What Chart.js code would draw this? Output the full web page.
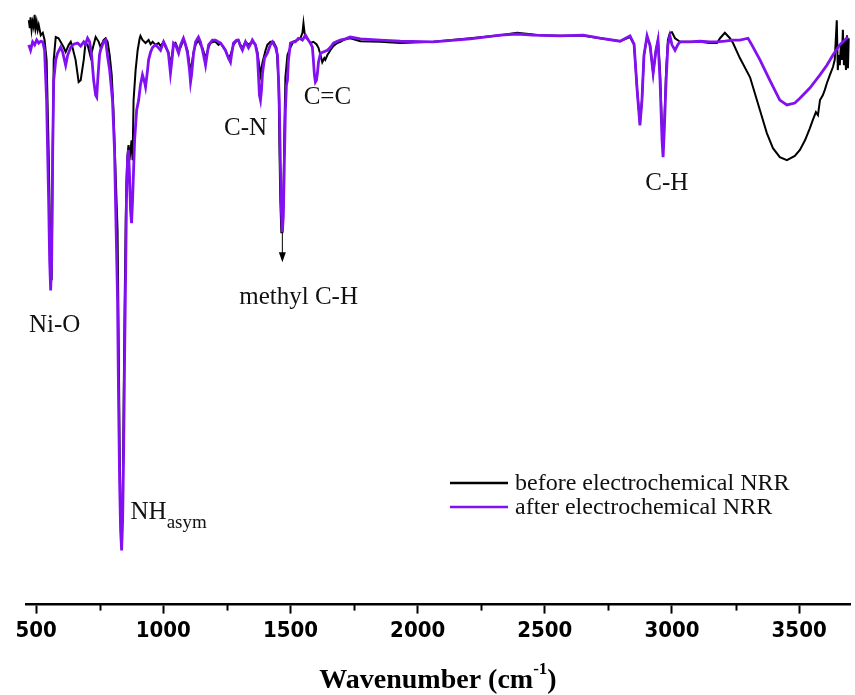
<!DOCTYPE html>
<html>
<head>
<meta charset="utf-8">
<script src="https://cdn.jsdelivr.net/npm/chart.js@4.4.1/dist/chart.umd.min.js"></script>
<style>
  html, body { margin: 0; padding: 0; background: #fff; }
  #wrap { width: 855px; height: 695px; }
</style>
</head>
<body>
<div id="wrap"><canvas id="ftirChart" width="855" height="695"></canvas></div>
<script>
/* ─────────────────────────────────────────────
   Data (wavenumber in cm-1, transmittance in a.u.)
───────────────────────────────────────────── */
const beforeWn = [471, 475, 478, 482, 486, 490, 494, 498, 502, 506, 510, 518, 526, 533, 541, 549, 557, 561, 565, 569,
  577, 588, 596, 608, 616, 628, 636, 643, 655, 667, 675, 687, 694, 702, 714, 726, 734, 746, 753, 765,
  773, 781, 789, 797, 804, 812, 820, 824, 828, 832, 836, 840, 844, 848, 852, 855, 859, 863, 867, 871,
  875, 879, 883, 891, 899, 907, 910, 918, 930, 942, 950, 958, 969, 981, 989, 1001, 1009, 1020, 1028, 1040,
  1048, 1060, 1068, 1079, 1087, 1095, 1107, 1119, 1127, 1138, 1146, 1154, 1166, 1178, 1185, 1197, 1205, 1217, 1225, 1237,
  1244, 1256, 1264, 1276, 1284, 1295, 1303, 1311, 1323, 1335, 1343, 1350, 1362, 1370, 1382, 1390, 1402, 1409, 1421, 1433,
  1445, 1453, 1456, 1460, 1464, 1468, 1472, 1476, 1480, 1488, 1500, 1511, 1527, 1539, 1547, 1551, 1555, 1559, 1570, 1578,
  1590, 1602, 1610, 1618, 1625, 1633, 1637, 1645, 1657, 1669, 1684, 1696, 1708, 1724, 1735, 1775, 1853, 1932, 2061, 2207,
  2325, 2391, 2482, 2560, 2651, 2717, 2796, 2835, 2851, 2863, 2874, 2882, 2890, 2902, 2914, 2926, 2937, 2945, 2953, 2961,
  2965, 2969, 2977, 2984, 2992, 3000, 3012, 3032, 3071, 3110, 3149, 3177, 3189, 3208, 3228, 3240, 3267, 3307, 3346, 3373,
  3397, 3424, 3452, 3483, 3503, 3523, 3542, 3554, 3566, 3574, 3582, 3593, 3601, 3609, 3621, 3633, 3640, 3644, 3648, 3652,
  3656, 3660, 3664, 3668, 3672, 3676, 3680, 3684, 3688, 3692, 3695];
const beforeT = [97.3, 96.0, 97.8, 95.7, 97.0, 96.2, 98.2, 96.0, 97.0, 95.7, 96.5, 94.8, 95.2, 94.0, 90.7, 75.7, 55.7, 54.0, 75.7, 90.7,
  94.5, 94.3, 93.7, 92.8, 92.0, 93.2, 93.7, 92.7, 90.7, 87.0, 87.3, 90.7, 93.5, 93.2, 91.2, 93.2, 94.5, 93.7, 92.8, 94.0,
  94.3, 93.7, 91.5, 88.2, 82.3, 72.3, 62.3, 45.7, 27.3, 14.0, 10.7, 17.3, 34.0, 50.7, 64.0, 70.7, 74.8, 76.5, 74.0, 75.7,
  77.3, 74.0, 84.0, 89.0, 92.3, 94.3, 94.7, 94.0, 93.5, 94.0, 93.3, 93.7, 93.2, 93.5, 93.0, 93.7, 92.8, 92.0, 89.8, 93.2,
  93.5, 92.3, 92.8, 94.0, 93.2, 92.3, 88.7, 92.0, 93.2, 94.0, 93.2, 92.7, 91.0, 92.8, 93.5, 93.7, 93.7, 93.2, 93.5, 92.7,
  92.3, 91.0, 91.5, 93.2, 93.7, 94.0, 93.2, 92.7, 93.7, 93.2, 93.5, 93.7, 93.2, 92.0, 88.2, 90.3, 92.3, 93.2, 93.7, 93.7,
  92.7, 87.3, 77.3, 67.3, 62.0, 62.0, 67.3, 79.0, 87.8, 91.5, 92.8, 93.7, 94.0, 94.3, 95.2, 96.8, 95.3, 94.5, 94.0, 93.5,
  93.7, 93.3, 92.7, 91.5, 90.3, 91.0, 90.7, 91.5, 92.3, 93.0, 93.5, 93.7, 94.0, 94.2, 94.3, 93.8, 93.7, 93.5, 93.7, 94.3,
  94.8, 95.2, 94.8, 94.7, 94.7, 94.3, 93.8, 94.5, 93.2, 85.7, 80.2, 84.0, 91.5, 94.5, 93.2, 88.5, 92.3, 94.0, 89.0, 79.0,
  75.7, 79.0, 89.0, 94.0, 95.2, 95.3, 94.3, 93.7, 93.7, 93.7, 93.5, 93.5, 94.3, 95.2, 94.3, 93.5, 91.0, 87.8, 82.3, 78.5,
  76.0, 74.5, 74.0, 74.7, 75.7, 77.3, 79.3, 80.7, 82.0, 81.5, 84.0, 84.8, 85.7, 86.8, 88.2, 89.5, 90.7, 94.0, 97.3, 89.0,
  91.5, 89.8, 93.2, 90.7, 95.7, 89.8, 94.0, 89.0, 94.8, 89.3, 94.3];

const afterWn = [471, 478, 486, 494, 502, 510, 518, 526, 533, 541, 549, 553, 557, 561, 565, 569, 577, 584, 596, 604,
  616, 624, 636, 647, 663, 675, 687, 694, 702, 710, 718, 726, 734, 738, 742, 749, 753, 765, 773, 781,
  789, 800, 808, 812, 820, 824, 828, 832, 836, 840, 844, 848, 852, 855, 859, 863, 867, 871, 875, 879,
  887, 895, 903, 910, 918, 926, 930, 938, 942, 950, 958, 969, 981, 989, 1001, 1009, 1020, 1028, 1036, 1040,
  1048, 1060, 1068, 1079, 1087, 1095, 1103, 1107, 1111, 1119, 1127, 1138, 1146, 1154, 1162, 1166, 1170, 1178, 1193, 1205,
  1217, 1225, 1237, 1244, 1256, 1264, 1268, 1276, 1288, 1295, 1303, 1311, 1323, 1335, 1343, 1350, 1362, 1370, 1374, 1378,
  1382, 1386, 1390, 1398, 1409, 1421, 1429, 1441, 1449, 1456, 1460, 1464, 1468, 1472, 1476, 1480, 1484, 1488, 1492, 1500,
  1511, 1519, 1531, 1539, 1547, 1559, 1570, 1578, 1586, 1590, 1594, 1598, 1602, 1606, 1610, 1618, 1629, 1645, 1657, 1669,
  1684, 1696, 1716, 1735, 1775, 1853, 1932, 2061, 2207, 2325, 2391, 2454, 2560, 2651, 2717, 2796, 2835, 2851, 2863, 2874,
  2882, 2890, 2902, 2914, 2926, 2937, 2945, 2953, 2961, 2965, 2969, 2977, 2984, 2992, 3000, 3012, 3024, 3032, 3071, 3110,
  3149, 3177, 3208, 3240, 3267, 3299, 3314, 3346, 3385, 3424, 3452, 3483, 3503, 3542, 3582, 3609, 3633, 3660, 3680, 3692];
const afterT = [93.2, 92.3, 93.7, 93.2, 94.0, 93.5, 93.8, 93.7, 92.3, 84.0, 67.3, 57.3, 52.3, 57.3, 75.7, 87.3, 90.7, 91.8, 92.8, 92.0,
  89.8, 91.5, 92.8, 93.3, 93.5, 93.0, 93.7, 93.3, 94.3, 93.7, 91.5, 87.3, 84.8, 84.5, 87.3, 91.5, 92.3, 93.7, 94.0, 91.2,
  89.0, 84.0, 75.7, 67.3, 50.7, 34.0, 20.7, 12.3, 9.0, 14.0, 25.7, 42.3, 55.7, 67.3, 74.0, 75.7, 71.5, 65.7, 63.5, 67.3,
  77.3, 82.3, 84.0, 86.5, 88.2, 87.0, 86.2, 89.0, 90.7, 92.0, 92.8, 93.2, 92.7, 92.3, 93.7, 93.0, 91.8, 88.5, 91.5, 93.5,
  93.2, 91.8, 93.2, 94.3, 93.3, 91.8, 89.0, 87.0, 88.2, 91.8, 93.7, 94.5, 93.7, 92.3, 90.7, 89.8, 91.0, 93.2, 94.0, 94.0,
  93.7, 93.5, 92.8, 92.3, 91.0, 90.3, 91.5, 93.5, 94.0, 94.0, 93.0, 92.3, 93.7, 92.7, 93.3, 94.0, 93.2, 91.5, 88.2, 84.8,
  84.0, 85.7, 88.5, 91.0, 91.8, 93.2, 93.7, 92.8, 91.5, 84.0, 74.0, 65.7, 62.0, 64.8, 74.0, 82.3, 86.5, 87.3, 90.7, 93.5,
  93.7, 93.7, 94.3, 94.2, 94.0, 94.8, 94.0, 93.5, 92.8, 90.7, 88.2, 87.0, 87.3, 88.5, 90.3, 91.8, 92.0, 92.3, 92.8, 93.5,
  93.8, 94.0, 94.2, 94.5, 94.2, 94.0, 93.8, 93.7, 94.2, 94.8, 95.0, 94.8, 94.7, 94.8, 94.3, 93.8, 94.7, 93.3, 85.7, 79.8,
  84.0, 91.5, 94.7, 93.0, 88.5, 92.3, 94.0, 87.3, 77.3, 74.5, 78.2, 87.3, 93.2, 94.7, 93.2, 92.3, 93.3, 93.7, 93.7, 93.8,
  93.7, 93.7, 93.8, 94.0, 94.0, 94.3, 93.2, 90.7, 87.3, 84.0, 83.2, 83.5, 84.3, 86.0, 88.2, 89.8, 91.5, 93.2, 94.0, 94.5];

const seriesLabels = ['before electrochemical NRR', 'after electrochemical NRR'];
const majorTicks = [500, 1000, 1500, 2000, 2500, 3000, 3500];
const minorTicks = [750, 1250, 1750, 2250, 2750, 3250];

/* ─────────────────────────────────────────────
   Styles
───────────────────────────────────────────── */
const colors = {
  before: '#000000',
  after: '#8210f0',
  text: '#111111',
};
const serif = '"Liberation Serif", "Times New Roman", serif';
const narrow = '"Liberation Sans Narrow", "DejaVu Sans Condensed", "Liberation Sans", sans-serif';

// band labels: [text, subscript, wavenumber, transmittance, align]
const bandLabels = [
  ['Ni-O', '', 573, 46.5, 'center'],
  ['NH', 'asym', 871, 15.3, 'left'],
  ['methyl C-H', '', 1532, 51.2, 'center'],
  ['C-N', '', 1323, 79.3, 'center'],
  ['C=C', '', 1645, 84.5, 'center'],
  ['C-H', '', 2980, 70.2, 'center'],
];

function toPoints(xs, ys) {
  return xs.map((x, i) => ({ x, y: ys[i] }));
}

/* ─────────────────────────────────────────────
   Overlay: minor ticks, band labels, arrow, legend, axis title
───────────────────────────────────────────── */
const overlay = {
  id: 'overlay',
  afterDraw(chart) {
    const { ctx, chartArea, scales: { x, y } } = chart;
    ctx.save();

    // minor ticks
    ctx.strokeStyle = '#000';
    ctx.lineWidth = 2;
    minorTicks.forEach(v => {
      const px = Math.round(x.getPixelForValue(v)) + 0.5;
      ctx.beginPath();
      ctx.moveTo(px, chartArea.bottom);
      ctx.lineTo(px, chartArea.bottom + 6);
      ctx.stroke();
    });

    // band labels
    ctx.fillStyle = colors.text;
    ctx.textBaseline = 'middle';
    bandLabels.forEach(([txt, sub, wn, t, align]) => {
      const px = x.getPixelForValue(wn);
      const py = y.getPixelForValue(t);
      ctx.font = '25px ' + serif;
      ctx.textAlign = align;
      ctx.fillText(txt, px, py);
      if (sub) {
        const w = ctx.measureText(txt).width;
        ctx.font = '19px ' + serif;
        ctx.textAlign = 'left';
        ctx.fillText(sub, px + w, py + 10);
      }
    });

    // arrow under the methyl C-H band
    const ax = x.getPixelForValue(1468);
    const ay0 = y.getPixelForValue(62);
    const ay1 = y.getPixelForValue(57);
    ctx.strokeStyle = '#000';
    ctx.lineWidth = 1;
    ctx.beginPath();
    ctx.moveTo(ax, ay0);
    ctx.lineTo(ax, ay1 - 6);
    ctx.stroke();
    ctx.beginPath();
    ctx.moveTo(ax - 3.5, ay1 - 10);
    ctx.lineTo(ax + 3.5, ay1 - 10);
    ctx.lineTo(ax, ay1);
    ctx.closePath();
    ctx.fillStyle = '#000';
    ctx.fill();

    // legend
    const lx = 450, ly = 483;
    chart.data.datasets.slice().reverse().forEach((ds, i) => {
      const yy = ly + i * 24;
      ctx.strokeStyle = ds.borderColor;
      ctx.lineWidth = 2.5;
      ctx.beginPath();
      ctx.moveTo(lx, yy);
      ctx.lineTo(lx + 58, yy);
      ctx.stroke();
      ctx.fillStyle = colors.text;
      ctx.font = '24px ' + serif;
      ctx.textAlign = 'left';
      ctx.fillText(ds.label, lx + 65, yy + 1);
    });

    // axis title with superscript
    const cx = (chartArea.left + chartArea.right) / 2;
    const ty = 680;
    ctx.fillStyle = '#000';
    ctx.textAlign = 'left';
    ctx.textBaseline = 'alphabetic';
    const main = 'Wavenumber (cm';
    ctx.font = 'bold 28px ' + serif;
    const w1 = ctx.measureText(main).width;
    const w3 = ctx.measureText(')').width;
    ctx.font = 'bold 17px ' + serif;
    const w2 = ctx.measureText('-1').width;
    let sx = cx - (w1 + w2 + w3) / 2;
    ctx.font = 'bold 28px ' + serif;
    ctx.fillText(main, sx, ty + 8);
    ctx.font = 'bold 17px ' + serif;
    ctx.fillText('-1', sx + w1, ty - 6);
    ctx.font = 'bold 28px ' + serif;
    ctx.fillText(')', sx + w1 + w2, ty + 8);

    ctx.restore();
  }
};

/* ─────────────────────────────────────────────
   Chart
───────────────────────────────────────────── */
function initChart() {
  const ctx = document.getElementById('ftirChart');

  new Chart(ctx, {
    type: 'line',
    data: {
      datasets: [
        {
          label: seriesLabels[1],
          data: toPoints(afterWn, afterT),
          borderColor: colors.after,
          borderWidth: 2.8,
          pointRadius: 0,
          tension: 0,
          order: 1,
        },
        {
          label: seriesLabels[0],
          data: toPoints(beforeWn, beforeT),
          borderColor: colors.before,
          borderWidth: 2,
          pointRadius: 0,
          tension: 0,
          order: 2,
        }
      ]
    },
    options: {
      responsive: false,
      animation: false,
      devicePixelRatio: 1,
      layout: { padding: { left: 26, right: 5, top: 10, bottom: 47 } },
      plugins: {
        legend: { display: false },
        tooltip: { enabled: false }
      },
      scales: {
        x: {
          type: 'linear',
          min: 460,
          max: 3700,
          afterBuildTicks: (s) => { s.ticks = majorTicks.map(v => ({ value: v })); },
          grid: {
            display: true,
            drawOnChartArea: false,
            drawTicks: true,
            tickLength: 9,
            tickWidth: 2,
            tickColor: '#000'
          },
          border: { display: true, color: '#000', width: 2.5 },
          ticks: {
            color: '#000',
            padding: 4,
            maxRotation: 0,
            autoSkip: false,
            font: { family: narrow, size: 22, weight: 'bold' },
            callback: (v) => String(v)
          }
        },
        y: {
          display: false,
          min: 0,
          max: 99
        }
      }
    },
    plugins: [overlay]
  });
}

document.addEventListener('DOMContentLoaded', initChart);
</script>
</body>
</html>
